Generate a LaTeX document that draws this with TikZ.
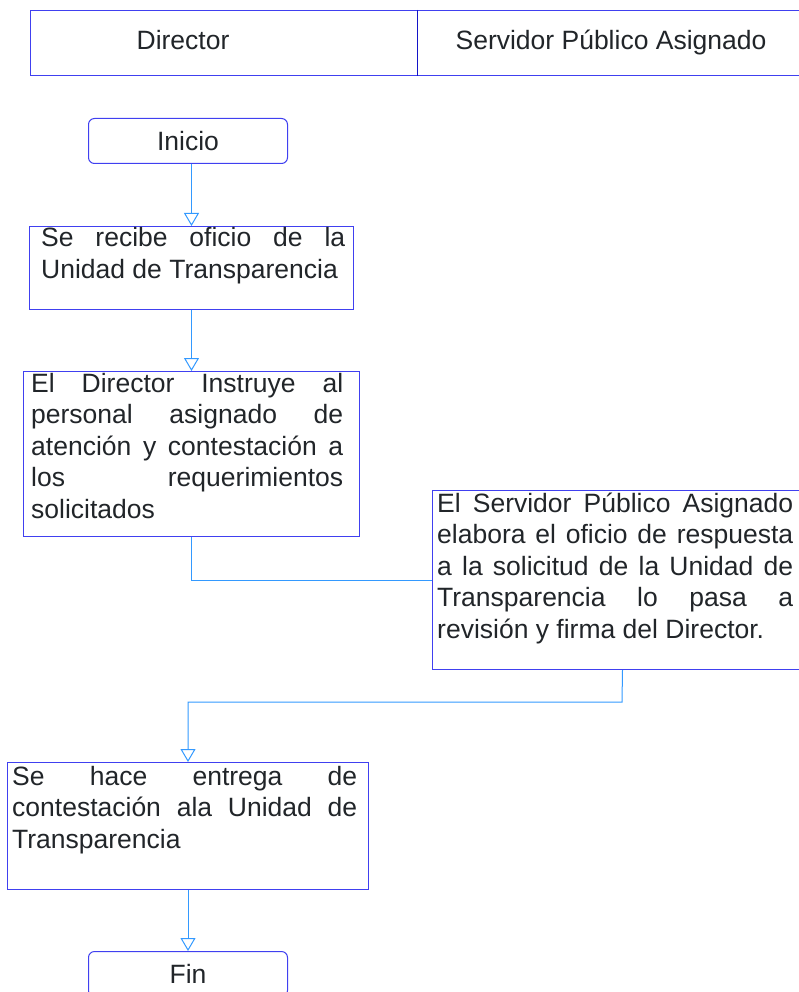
\documentclass[tikz,border=0pt]{standalone}
\usepackage{fontspec}
\setmainfont{Liberation Sans}
\usetikzlibrary{arrows.meta}
\definecolor{boxblue}{RGB}{64,64,240}
\definecolor{hdrline}{RGB}{20,20,200}
\definecolor{connblue}{RGB}{51,153,255}
\definecolor{txtgray}{RGB}{33,37,41}
\tikzset{
  boxs/.style={draw=boxblue, line width=1pt, rectangle, inner sep=0pt, anchor=north west},
  term/.style={boxs, rounded corners=6pt, text=txtgray, font=\fontsize{26.5}{31.5}\selectfont},
  txt/.style={text=txtgray, inner sep=0pt, font={\fontsize{26.5}{31.5}\selectfont\hyphenpenalty=10000 \exhyphenpenalty=10000 \tolerance=10000}},
  para/.style={txt, align=justify, anchor=base west},
  conn/.style={draw=connblue, line width=1pt},
  arr/.style={conn, -{Triangle[open, length=13pt, width=15pt]}},
}
\begin{document}
\begin{tikzpicture}[x=1pt, y=-1pt]
\useasboundingbox (0,0) rectangle (798,992);
% header
\node[boxs, minimum width=387pt, minimum height=65pt] (h1) at (30,10) {};
\node[boxs, minimum width=395pt, minimum height=65pt] (h2) at (417,10) {};
\draw[hdrline, line width=1pt] (h2.north west) -- (h2.south west);
\node[txt, anchor=base] (ht1) at (183,50) {Director};
\node[txt, anchor=base] (ht2) at (611,50) {Servidor Público Asignado};
% boxes
\node[term, minimum width=199pt, minimum height=45pt] (ini) at (88,118) {Inicio};
\node[boxs, minimum width=324pt, minimum height=83pt] (b2) at (29,226) {};
\node[para, text width=304pt] (t2) at (41,247) {Se recibe oficio de la\linebreak Unidad de Transparencia};
\node[boxs, minimum width=336pt, minimum height=165pt] (b3) at (23,371) {};
\node[para, text width=312pt] (t3) at (31,392) {El Director Instruye al\linebreak personal asignado de\linebreak atención y contestación a\linebreak los requerimientos\linebreak solicitados};
\node[boxs, minimum width=380pt, minimum height=179pt] (b4) at (432,490) {};
\node[para, text width=356pt] (t4) at (437,512) {El Servidor Público Asignado\linebreak elabora el oficio de respuesta\linebreak a la solicitud de la Unidad de\linebreak Transparencia lo pasa a\linebreak revisión y firma del Director.};
\node[boxs, minimum width=361pt, minimum height=127pt] (b5) at (7,762) {};
\node[para, text width=345pt] (t5) at (12,785) {Se hace entrega de\linebreak contestación ala Unidad de\linebreak Transparencia};
\node[term, minimum width=199pt, minimum height=45pt] (fin) at (88,951) {Fin};
% connectors
\draw[arr] (b2.north |- ini.south) -- (b2.north);
\draw[arr] (b2.south) -- (b3.north);
\draw[conn] (b3.south) |- (b4.west);
\coordinate (j4) at (622,702);
\draw[arr] (b4.south) -- (j4) -| (b5.north);
\draw[arr] (b5.south) -- (fin.north);
\end{tikzpicture}
\end{document}
